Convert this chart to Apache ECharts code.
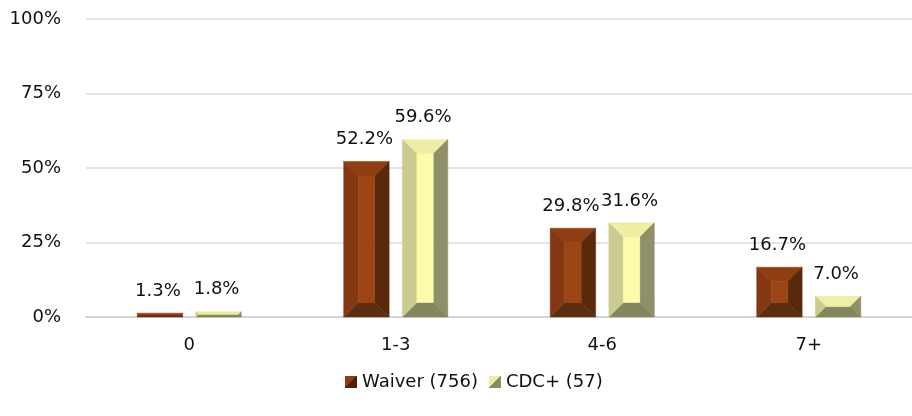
<!DOCTYPE html>
<html><head><meta charset="utf-8">
<script src="https://cdn.jsdelivr.net/npm/echarts@6/dist/echarts.min.js"></script>
<style>html,body{margin:0;padding:0;background:#fff}#c{width:912px;height:416px}</style>
</head><body><div id="c"></div>
<script>
const categories = ['0', '1-3', '4-6', '7+'];
const waiverValues = [1.3, 52.2, 29.8, 16.7];
const cdcValues = [1.8, 59.6, 31.6, 7.0];
const seriesNames = ['Waiver (756)', 'CDC+ (57)'];
const yTicks = [0, 25, 50, 75, 100];

const FONT = '"DejaVu Sans", sans-serif';
const palettes = [
  {top:'#8E3E12', left:'#843811', center:'#9C4414', right:'#5A280B', bottom:'#5C2E10', light:'#8E3E12', dark:'#4E2209'},
  {top:'#EEEEA6', left:'#CBCB8F', center:'#FBFBAA', right:'#8F8F69', bottom:'#85855F', light:'#EDEDA8', dark:'#8A8A62'}
];

function makeRender(si){
  return function(params, api){
    const cat = api.value(0), val = api.value(1);
    const base = api.coord([cat, 0]);
    const topP = api.coord([cat, val]);
    const band = api.size([1, 0])[0];
    const bw = band * 0.22, gap = band * 0.064;
    const cx = base[0] + (si === 0 ? -1 : 1) * (bw + gap) / 2;
    const x0 = cx - bw / 2, x1 = cx + bw / 2, y0 = topP[1], y1 = base[1];
    const h = y1 - y0;
    const b = Math.min(bw * 0.32, h / 2);
    const p = palettes[si];
    const A=[x0,y0],B=[x1,y0],C=[x1,y1],D=[x0,y1];
    const a=[x0+b,y0+b],bb=[x1-b,y0+b],c=[x1-b,y1-b],d=[x0+b,y1-b];
    const poly = (pts, fill) => ({type:'polygon', shape:{points:pts}, style:{fill:fill, stroke:fill, lineWidth:0.5}});
    return {type:'group', children:[
      poly([A,B,bb,a], p.top),
      poly([B,C,c,bb], p.right),
      poly([C,D,d,c], p.bottom),
      poly([D,A,a,d], p.left),
      poly([a,bb,c,d], p.center),
      {type:'text', style:{text: val.toFixed(1) + '%', x: cx - 2, y: y0 - 22, align:'center', verticalAlign:'middle', font: '18px ' + FONT, fill:'#111'}}
    ]};
  };
}

function iconGradient(p){
  return {type:'linear', x:0, y:0, x2:1, y2:1, colorStops:[
    {offset:0, color:p.light}, {offset:0.5, color:p.light},
    {offset:0.5, color:p.dark}, {offset:1, color:p.dark}]};
}

const chart = echarts.init(document.getElementById('c'));
chart.setOption({
  animation:false,
  grid:{left:86, width:838, top:19, bottom:99, containLabel:false},
  legend:{
    data: seriesNames.map((n,i)=>({name:n, itemStyle:{color:iconGradient(palettes[i])}})),
    top:372, left:345, icon:'rect', itemWidth:12, itemHeight:12, itemGap:11, padding:0,
    textStyle:{fontFamily:FONT, fontSize:18, color:'#111', lineHeight:20}
  },
  xAxis:{type:'category', data:categories,
    axisLine:{show:true, lineStyle:{color:'#d4d4d4', width:2}}, axisTick:{show:false},
    axisLabel:{fontFamily:FONT, fontSize:18, color:'#111', margin:19}},
  yAxis:{type:'value', min:yTicks[0], max:yTicks[yTicks.length-1], interval:25,
    axisLine:{show:false}, axisTick:{show:false},
    splitLine:{lineStyle:{color:'#dcdcdc', width:1.5}},
    axisLabel:{formatter:'{value}%', fontFamily:FONT, fontSize:18, color:'#111', margin:25}},
  series:[
    {name:seriesNames[0], type:'custom', renderItem:makeRender(0), itemStyle:{color:palettes[0].center},
     data:waiverValues.map((v,i)=>[i,v]), encode:{x:0,y:1}, clip:false},
    {name:seriesNames[1], type:'custom', renderItem:makeRender(1), itemStyle:{color:palettes[1].center},
     data:cdcValues.map((v,i)=>[i,v]), encode:{x:0,y:1}, clip:false}
  ]
});
</script></body></html>
